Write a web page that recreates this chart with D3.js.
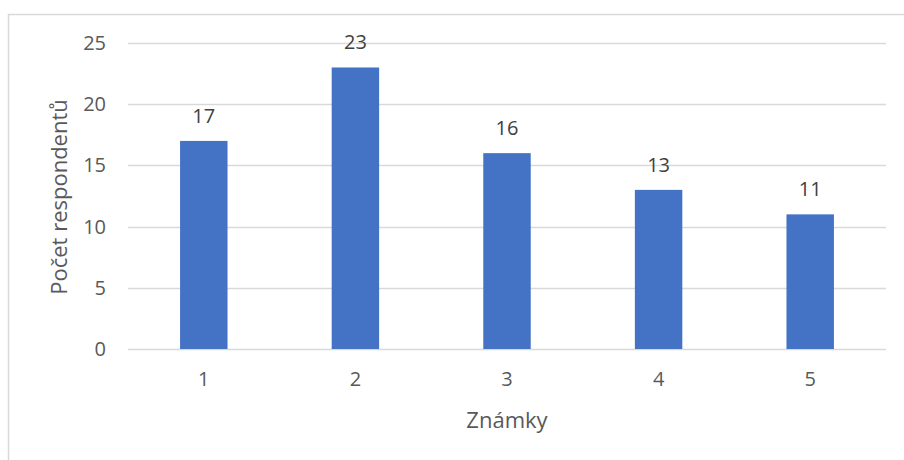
<!DOCTYPE html>
<html>
<head>
<meta charset="utf-8">
<script src="https://cdn.jsdelivr.net/npm/d3@7"></script>
<style>
  body { margin: 0; background: #fff; }
  svg text { font-family: "Open Sans", sans-serif; }
</style>
</head>
<body>
<svg id="chart" width="904" height="460"></svg>
<script>
const categories = ["1", "2", "3", "4", "5"];
const values = [17, 23, 16, 13, 11];
const yTicks = [0, 5, 10, 15, 20, 25];
const xTitle = "Známky";
const yTitle = "Počet respondentů";

let svg = d3.select("#chart"),
    plotLeft = 128, plotRight = 886, plotTop = 43, plotBottom = 349;

// chart area frame (runs off the right and bottom of the picture)
svg.append("rect")
    .attr("x", 8.5).attr("y", 14.5)
    .attr("width", 1000).attr("height", 1000)
    .attr("fill", "none").attr("stroke", "#d9d9d9").attr("stroke-width", 1.5);

let x = d3.scaleBand().domain(categories).range([plotLeft, plotRight]);
let y = d3.scaleLinear().domain([0, 25]).range([plotBottom, plotTop]);

let barW = x.bandwidth() * 0.313;

// gridlines
svg.append("g")
    .selectAll("line").data(yTicks).enter().append("line")
    .attr("x1", plotLeft).attr("x2", plotRight)
    .attr("y1", d => Math.round(y(d)) + 0.5)
    .attr("y2", d => Math.round(y(d)) + 0.5)
    .attr("stroke", "#d9d9d9").attr("stroke-width", 1.5);

let yAxis = svg.append("g")
    .attr("transform", "translate(" + (plotLeft - 22) + ",0)")
    .call(d3.axisLeft(y).tickValues(yTicks).tickSize(0).tickPadding(0));
yAxis.select(".domain").remove();
yAxis.selectAll("text")
    .attr("fill", "#595959").style("font-size", "20px");

let xAxis = svg.append("g")
    .attr("transform", "translate(0," + plotBottom + ")")
    .call(d3.axisBottom(x).tickSize(0).tickPadding(23));
xAxis.select(".domain").remove();
xAxis.selectAll("text")
    .attr("fill", "#595959").style("font-size", "20px");

let data = categories.map((c, i) => ({ cat: c, val: values[i] }));

svg.append("g")
    .selectAll("rect").data(data).enter().append("rect")
    .attr("x", d => x(d.cat) + x.bandwidth() / 2 - barW / 2)
    .attr("y", d => y(d.val))
    .attr("width", barW)
    .attr("height", d => y(0) - y(d.val))
    .attr("fill", "#4472c4");

svg.append("g")
    .selectAll("text").data(data).enter().append("text")
    .attr("x", d => x(d.cat) + x.bandwidth() / 2)
    .attr("y", d => y(d.val) - 18)
    .attr("text-anchor", "middle")
    .attr("fill", "#404040")
    .style("font-size", "20px")
    .text(d => d.val);

svg.append("text")
    .attr("x", (plotLeft + plotRight) / 2).attr("y", 428)
    .attr("text-anchor", "middle")
    .attr("fill", "#595959").style("font-size", "22px")
    .text(xTitle);

svg.append("text")
    .attr("transform", "translate(67," + ((plotTop + plotBottom) / 2 + 1) + ") rotate(-90)")
    .attr("text-anchor", "middle")
    .attr("fill", "#595959").style("font-size", "22px")
    .text(yTitle);
</script>
</body>
</html>
